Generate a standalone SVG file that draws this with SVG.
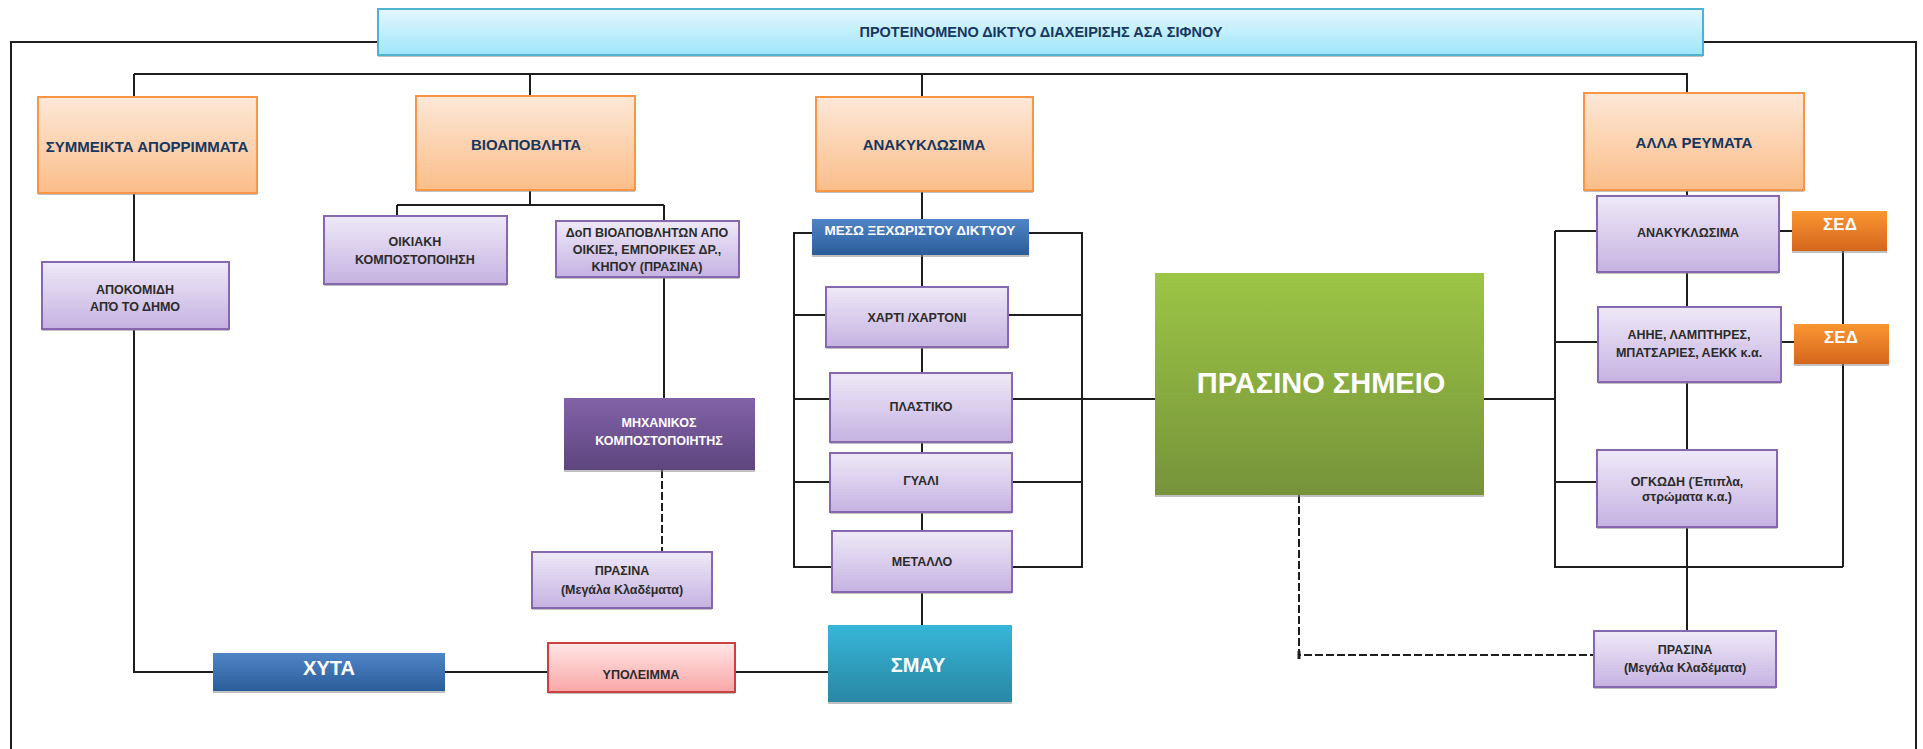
<svg xmlns="http://www.w3.org/2000/svg" width="1923" height="749" viewBox="0 0 1923 749">
<defs>
<linearGradient id="gTitle" x1="0" y1="0" x2="0" y2="1"><stop offset="0" stop-color="#e4f8fe"/><stop offset="1" stop-color="#9fe5fa"/></linearGradient>
<linearGradient id="gOrange" x1="0" y1="0" x2="0" y2="1"><stop offset="0" stop-color="#fde8d8"/><stop offset="1" stop-color="#fbbd89"/></linearGradient>
<linearGradient id="gPurple" x1="0" y1="0" x2="0" y2="1"><stop offset="0" stop-color="#eee9f7"/><stop offset="1" stop-color="#c6b2e2"/></linearGradient>
<linearGradient id="gMix" x1="0" y1="0" x2="0" y2="1"><stop offset="0" stop-color="#8262a8"/><stop offset="1" stop-color="#5d457f"/></linearGradient>
<linearGradient id="gBlue" x1="0" y1="0" x2="0" y2="1"><stop offset="0" stop-color="#4f85c6"/><stop offset="1" stop-color="#2b5c9a"/></linearGradient>
<linearGradient id="gTeal" x1="0" y1="0" x2="0" y2="1"><stop offset="0" stop-color="#37b6d8"/><stop offset="1" stop-color="#2987a4"/></linearGradient>
<linearGradient id="gGreen" x1="0" y1="0" x2="0" y2="1"><stop offset="0" stop-color="#9cc545"/><stop offset="1" stop-color="#76933a"/></linearGradient>
<linearGradient id="gPink" x1="0" y1="0" x2="0" y2="1"><stop offset="0" stop-color="#ffe6e6"/><stop offset="1" stop-color="#f9a6a6"/></linearGradient>
<linearGradient id="gSed" x1="0" y1="0" x2="0" y2="1"><stop offset="0" stop-color="#fa9632"/><stop offset="1" stop-color="#d5661c"/></linearGradient>
</defs>
<style>
text{font-family:"Liberation Sans",Arial,sans-serif;font-weight:bold;text-anchor:middle;dominant-baseline:central}
.sh{fill:#8c8c8c;opacity:.55}
.title{fill:url(#gTitle);stroke:#4fb3d0;stroke-width:2}
.org{fill:url(#gOrange);stroke:#f79646;stroke-width:2}
.pur{fill:url(#gPurple);stroke:#8568ad;stroke-width:2}
.mix{fill:url(#gMix);stroke:none}
.blue{fill:url(#gBlue);stroke:none}
.teal{fill:url(#gTeal);stroke:none}
.green{fill:url(#gGreen);stroke:none}
.pink{fill:url(#gPink);stroke:#c9423f;stroke-width:2}
.sed{fill:url(#gSed);stroke:none}
.tn{fill:#17375e;font-size:15px}
.tt{fill:#17375e;font-size:14.5px}
.td{fill:#2b2b2b;font-size:12.5px}
.tw{fill:#ffffff;font-size:12.5px}
.tbig{fill:#ffffff;font-size:20px}
.conn path{fill:none;stroke:#1e1e1e;stroke-width:2}
.conn path.dash{stroke-dasharray:8 3}
</style>

<g id="connectors" class="conn">
<path d="M11 749 V42 H378"/>
<path d="M1703 42 H1916 V749"/>
<path d="M134 74 H1688"/>
<path d="M134 74 V97 M530 74 V96 M922 74 V97 M1687 74 V93"/>
<path d="M134 193 V262 M134 329 V672 H213"/>
<path d="M445 672 H548 M735 672 H828"/>
<path d="M530 190 V205 M397 205 H664 M397 205 V216 M664 205 V221 M664 277 V398"/>
<path class="dash" d="M662 470 V552"/>
<path d="M922 191 V219 M922 255 V287 M922 347 V373 M922 442 V453 M922 512 V531 M922 592 V625"/>
<path d="M812 233 H794 V568 M794 315 H826 M794 399 H830 M794 482 H830 M794 567 H832"/>
<path d="M1029 233 H1082 V568 M1008 315 H1082 M1012 399 H1155 M1012 482 H1082 M1012 567 H1082"/>
<path d="M1484 399 H1555"/>
<path d="M1555 231 V567 H1843 M1555 231 H1597 M1555 342 H1598 M1555 482 H1597"/>
<path d="M1843 251 V324 M1843 364 V567 M1779 231 H1792 M1781 342 H1794"/>
<path d="M1687 190 V196 M1687 272 V307 M1687 382 V450 M1687 527 V631"/>
<path class="dash" d="M1299 495 V655 H1594"/>
<path d="M1299 651 V659" style="stroke-width:3"/>
</g>

<g id="n-title"><rect class="sh" x="378" y="12" width="1325" height="45"/><rect class="title" x="378" y="9" width="1325" height="46"/><text class="tt" x="1041" y="32">ΠΡΟΤΕΙΝΟΜΕΝΟ ΔΙΚΤΥΟ ΔΙΑΧΕΙΡΙΣΗΣ ΑΣΑ ΣΙΦΝΟΥ</text></g>

<g id="n-symmeikta"><rect class="sh" x="38" y="99" width="219" height="96"/><rect class="org" x="38" y="97" width="219" height="96"/><text class="tn" x="147" y="146">ΣΥΜΜΕΙΚΤΑ ΑΠΟΡΡΙΜΜΑΤΑ</text></g>
<g id="n-bioapovlita"><rect class="sh" x="416" y="98" width="219" height="94"/><rect class="org" x="416" y="96" width="219" height="94"/><text class="tn" x="526" y="144">ΒΙΟΑΠΟΒΛΗΤΑ</text></g>
<g id="n-anakyklosima"><rect class="sh" x="816" y="99" width="217" height="94"/><rect class="org" x="816" y="97" width="217" height="94"/><text class="tn" x="924" y="144">ΑΝΑΚΥΚΛΩΣΙΜΑ</text></g>
<g id="n-alla"><rect class="sh" x="1584" y="95" width="220" height="97"/><rect class="org" x="1584" y="93" width="220" height="97"/><text class="tn" x="1694" y="142">ΑΛΛΑ ΡΕΥΜΑΤΑ</text></g>

<g id="n-apokomidi"><rect class="sh" x="42" y="264" width="187" height="67"/><rect class="pur" x="42" y="262" width="187" height="67"/><text class="td" x="135" y="290">ΑΠΟΚΟΜΙΔΗ</text><text class="td" x="135" y="307">ΑΠΌ ΤΟ ΔΗΜΟ</text></g>
<g id="n-oikiaki"><rect class="sh" x="324" y="218" width="183" height="68"/><rect class="pur" x="324" y="216" width="183" height="68"/><text class="td" x="415" y="242">ΟΙΚΙΑΚΗ</text><text class="td" x="415" y="260">ΚΟΜΠΟΣΤΟΠΟΙΗΣΗ</text></g>
<g id="n-dop"><rect class="sh" x="556" y="223" width="183" height="56"/><rect class="pur" x="556" y="221" width="183" height="56"/><text class="td" x="647" y="233">ΔοΠ ΒΙΟΑΠΟΒΛΗΤΩΝ ΑΠΟ</text><text class="td" x="647" y="250">ΟΙΚΙΕΣ, ΕΜΠΟΡΙΚΕΣ ΔΡ.,</text><text class="td" x="647" y="267">ΚΗΠΟΥ (ΠΡΑΣΙΝΑ)</text></g>
<g id="n-mixanikos"><rect class="sh" x="564" y="400" width="191" height="72"/><rect class="mix" x="564" y="398" width="191" height="72"/><text class="tw" x="659" y="423">ΜΗΧΑΝΙΚΟΣ</text><text class="tw" x="659" y="441">ΚΟΜΠΟΣΤΟΠΟΙΗΤΗΣ</text></g>
<g id="n-prasina-left"><rect class="sh" x="532" y="554" width="180" height="56"/><rect class="pur" x="532" y="552" width="180" height="56"/><text class="td" x="622" y="571">ΠΡΑΣΙΝΑ</text><text class="td" x="622" y="590">(Μεγάλα Κλαδέματα)</text></g>

<g id="n-xyta"><rect class="sh" x="213" y="655" width="232" height="38"/><rect class="blue" x="213" y="653" width="232" height="38"/><text class="tbig" x="329" y="668">ΧΥΤΑ</text></g>
<g id="n-ypoleimma"><rect class="sh" x="548" y="645" width="187" height="49"/><rect class="pink" x="548" y="643" width="187" height="49"/><text class="td" x="641" y="675">ΥΠΟΛΕΙΜΜΑ</text></g>
<g id="n-smay"><rect class="sh" x="828" y="627" width="184" height="77"/><rect class="teal" x="828" y="625" width="184" height="77"/><text class="tbig" x="918" y="665">ΣΜΑΥ</text></g>

<g id="n-meso"><rect class="sh" x="812" y="221" width="217" height="36"/><rect class="blue" x="812" y="219" width="217" height="36"/><text class="tw" x="920" y="230" style="font-size:13.5px">ΜΕΣΩ ΞΕΧΩΡΙΣΤΟΥ ΔΙΚΤΥΟΥ</text></g>
<g id="n-xarti"><rect class="sh" x="826" y="289" width="182" height="60"/><rect class="pur" x="826" y="287" width="182" height="60"/><text class="td" x="917" y="318">ΧΑΡΤΙ /ΧΑΡΤΟΝΙ</text></g>
<g id="n-plastiko"><rect class="sh" x="830" y="375" width="182" height="69"/><rect class="pur" x="830" y="373" width="182" height="69"/><text class="td" x="921" y="407">ΠΛΑΣΤΙΚΟ</text></g>
<g id="n-gyali"><rect class="sh" x="830" y="455" width="182" height="59"/><rect class="pur" x="830" y="453" width="182" height="59"/><text class="td" x="921" y="481">ΓΥΑΛΙ</text></g>
<g id="n-metallo"><rect class="sh" x="832" y="533" width="180" height="61"/><rect class="pur" x="832" y="531" width="180" height="61"/><text class="td" x="922" y="562">ΜΕΤΑΛΛΟ</text></g>

<g id="n-prasino-simeio"><rect class="sh" x="1155" y="275" width="329" height="222"/><rect class="green" x="1155" y="273" width="329" height="222"/><text x="1321" y="383" style="fill:#ffffff;font-size:29px">ΠΡΑΣΙΝΟ ΣΗΜΕΙΟ</text></g>

<g id="n-anak-right"><rect class="sh" x="1597" y="198" width="182" height="76"/><rect class="pur" x="1597" y="196" width="182" height="76"/><text class="td" x="1688" y="233">ΑΝΑΚΥΚΛΩΣΙΜΑ</text></g>
<g id="n-ahhe"><rect class="sh" x="1598" y="309" width="183" height="75"/><rect class="pur" x="1598" y="307" width="183" height="75"/><text class="td" x="1689" y="335">ΑΗΗΕ, ΛΑΜΠΤΗΡΕΣ,</text><text class="td" x="1689" y="353">ΜΠΑΤΣΑΡΙΕΣ, ΑΕΚΚ κ.α.</text></g>
<g id="n-ogkodi"><rect class="sh" x="1597" y="452" width="180" height="77"/><rect class="pur" x="1597" y="450" width="180" height="77"/><text class="td" x="1687" y="482">ΟΓΚΩΔΗ (Έπιπλα,</text><text class="td" x="1687" y="497">στρώματα κ.α.)</text></g>
<g id="n-prasina-right"><rect class="sh" x="1594" y="633" width="182" height="56"/><rect class="pur" x="1594" y="631" width="182" height="56"/><text class="td" x="1685" y="650">ΠΡΑΣΙΝΑ</text><text class="td" x="1685" y="668">(Μεγάλα Κλαδέματα)</text></g>

<g id="n-sed1"><rect class="sh" x="1792" y="213" width="95" height="40"/><rect class="sed" x="1792" y="211" width="95" height="40"/><text x="1840" y="224" style="fill:#ffffff;font-size:17px">ΣΕΔ</text></g>
<g id="n-sed2"><rect class="sh" x="1794" y="326" width="95" height="40"/><rect class="sed" x="1794" y="324" width="95" height="40"/><text x="1841" y="337" style="fill:#ffffff;font-size:17px">ΣΕΔ</text></g>
</svg>
